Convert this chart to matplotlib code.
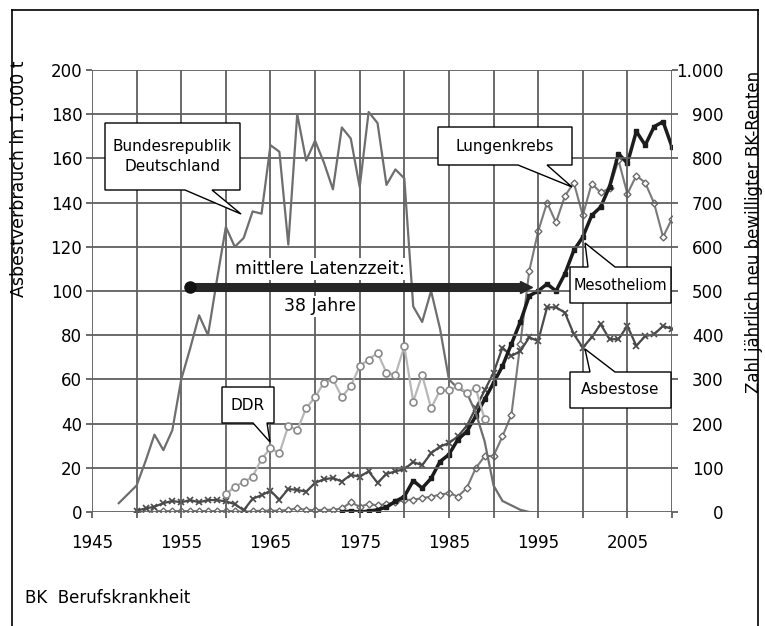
import numpy as np
import matplotlib
matplotlib.use("Agg")
import matplotlib.pyplot as plt
from matplotlib.lines import Line2D
from matplotlib.patches import Polygon

plt.rcParams['font.family'] = ['DejaVu Sans']

# Asbestverbrauch (1.000 t), linke Achse
brd_years = list(range(1948, 1995))
brd = [4, 8, 12, 23, 35, 28, 37, 60, 74, 89, 80, 105, 129, 120, 124, 136, 135,
       166, 163, 121, 180, 159, 168, 158, 146, 174, 169, 147, 181, 176, 148, 155,
       151, 93, 86, 100, 83, 60, 56, 54, 45, 32, 12, 5, 3, 1, 0]

ddr_years = list(range(1960, 1990))
ddr = [8, 11.5, 13.5, 16, 24, 29, 26.5, 39, 37, 47, 52, 58.5, 60, 52, 57, 66,
       69, 72, 63, 62, 75, 50, 62, 47, 55, 55, 57, 54, 56, 42]

# BK-Renten, rechte Achse
asb_years = list(range(1950, 2011))
asbestose = [3, 8, 12, 20, 25, 22, 27, 22, 27, 27, 24, 18, 4, 30, 38, 48, 28, 52,
             50, 46, 66, 74, 77, 69, 84, 80, 92, 66, 86, 92, 97, 113, 106, 133,
             148, 156, 171, 195, 235, 275, 315, 372, 353, 364, 395, 387, 463,
             463, 451, 402, 372, 395, 425, 391, 391, 421, 376, 398, 402, 421, 414]

lk_years = list(range(1950, 2011))
lungenkrebs = [0, 0, 2, 2, 2, 2, 2, 2, 2, 2, 2, 2, 0, 2, 3, 3, 3, 5, 8, 5, 4, 5,
               5, 8, 22, 12, 18, 15, 18, 22, 27, 28, 31, 35, 39, 43, 35, 54, 99,
               126, 127, 171, 220, 380, 545, 635, 700, 655, 715, 745, 671, 743,
               723, 732, 796, 720, 761, 745, 698, 622, 664]

meso_years = list(range(1973, 2011))
mesotheliom = [0, 2, 0, 2, 5, 11, 24, 35, 71, 54, 76, 114, 130, 164, 182, 217,
               255, 292, 330, 380, 430, 489, 500, 516, 500, 539, 592, 622, 671,
               690, 736, 811, 789, 861, 830, 872, 883, 826]

lat_start = 1956
lat_years = 38
lat_level = 102

left_ticks = list(range(0, 201, 20))
right_ticks = list(range(0, 1001, 100))
right_labels = ['0', '100', '200', '300', '400', '500', '600', '700', '800', '900', '1.000']
x_ticks = list(range(1945, 2011, 5))

W, H = 765, 626
fig = plt.figure(figsize=(W / 100, H / 100), dpi=100)
fig.patch.set_facecolor('white')

ax = fig.add_axes([92 / W, (H - 512) / H, (672 - 92) / W, (512 - 70) / H])
ax2 = ax.twinx()
ax.set_zorder(ax2.get_zorder() + 1)
ax.patch.set_visible(False)

grid_c = '#5f5f5f'
ax.set_xlim(1945, 2010)
ax.set_ylim(0, 200)
ax2.set_ylim(0, 1000)
ax.set_xticks(x_ticks)
ax.set_xticklabels([str(t) if (t - 1945) % 10 == 0 else '' for t in x_ticks])
ax.set_yticks(left_ticks)
ax2.set_yticks(right_ticks)
ax2.set_yticklabels(right_labels)
ax.grid(True, color=grid_c, lw=1.3)
ax.set_axisbelow(True)
for a in (ax, ax2):
    for s in a.spines.values():
        s.set_visible(False)
ax.tick_params(axis='both', length=4, color=grid_c, width=1.3, labelsize=12)
ax.tick_params(axis='x', pad=12)
ax.tick_params(axis='y', pad=3)
ax2.tick_params(axis='y', length=4, color=grid_c, width=1.3, labelsize=12, pad=33)
for lbl in ax2.get_yticklabels():
    lbl.set_ha('right')

ax.set_ylabel('Asbestverbrauch in 1.000 t', fontsize=12.5)
ax.yaxis.set_label_coords(-0.11, 0.755)
ax2.set_ylabel('Zahl jährlich neu bewilligter BK-Renten', fontsize=12)
ax2.yaxis.set_label_coords(1.126, 0.633)

# Serien
ax.plot(brd_years, brd, color='#6e6e6e', lw=1.6, zorder=3)
ax.plot(ddr_years, ddr, color='#b8b8b8', lw=1.6, marker='o', ms=5,
        mfc='white', mec='#8a8a8a', mew=1.2, zorder=3)
ax2.plot(lk_years, lungenkrebs, color='#7a7a7a', lw=1.5, marker='D', ms=3.5,
         mfc='white', mec='#6a6a6a', mew=1, zorder=3)
ax2.plot(asb_years, asbestose, color='#4a4a4a', lw=1.6, marker='x', ms=4,
         mew=1.2, zorder=3)
ax2.plot(meso_years, mesotheliom, color='#1c1c1c', lw=2.5, marker='s', ms=2.5,
         zorder=4)

# mittlere Latenzzeit
lat_end = lat_start + lat_years
ax.plot([lat_start, lat_end - 0.6], [lat_level, lat_level], color='#262626',
        lw=6.5, solid_capstyle='butt', zorder=5)
ax.plot([lat_start], [lat_level], 'o', color='#111111', ms=8, zorder=6)
ax.plot([lat_end - 0.4], [lat_level], '>', color='#262626', ms=9, zorder=6)
ax.text(1970.5, 110, 'mittlere Latenzzeit:', fontsize=12.5, ha='center',
        va='center', zorder=7,
        bbox=dict(boxstyle='square,pad=0.1', fc='white', ec='none'))
ax.text(1970.5, 93, '%d Jahre' % lat_years, fontsize=12.5, ha='center',
        va='center', zorder=7,
        bbox=dict(boxstyle='square,pad=0.1', fc='white', ec='none'))


def fp(x, y):
    return (x / W, 1 - y / H)


def callout(text, box, wedge, tip, side, size=11):
    # Sprechblase in Pixelkoordinaten (y nach unten)
    L, T, R, B = box
    a, b = wedge
    if side == 'bottom':
        pts = [(L, T), (R, T), (R, B), (b, B), tip, (a, B), (L, B)]
    else:
        pts = [(L, T), (a, T), tip, (b, T), (R, T), (R, B), (L, B)]
    poly = Polygon([fp(*p) for p in pts], closed=True, fc='white', ec='black',
                   lw=1, transform=fig.transFigure, zorder=5)
    fig.add_artist(poly)
    cx, cy = fp((L + R) / 2, (T + B) / 2)
    fig.text(cx, cy, text, ha='center', va='center', fontsize=size,
             linespacing=1.35, zorder=6)


callout('Bundesrepublik\nDeutschland', (105, 123, 240, 190), (185, 212),
        (241, 214), 'bottom')
callout('Lungenkrebs', (438, 127, 572, 165), (518, 547), (572, 187), 'bottom')
callout('Mesotheliom', (570, 267, 671, 303), (588, 615), (585, 243), 'top',
        size=10.5)
callout('Asbestose', (570, 372, 671, 408), (590, 615), (585, 349), 'top')
callout('DDR', (222, 387, 274, 423), (253, 267), (270, 442), 'bottom')

fig.text(25 / W, 1 - 598 / H, 'BK  Berufskrankheit', fontsize=12,
         ha='left', va='center')

# Rahmen
fl, ft, fr = 12 / W, 1 - 10 / H, 758 / W
fig.add_artist(Line2D([fl, fl], [0, ft], color='black', lw=1.2))
fig.add_artist(Line2D([fl, fr], [ft, ft], color='black', lw=1.2))
fig.add_artist(Line2D([fr, fr], [0, ft], color='black', lw=1.2))

fig.savefig('out.png', dpi=100)
